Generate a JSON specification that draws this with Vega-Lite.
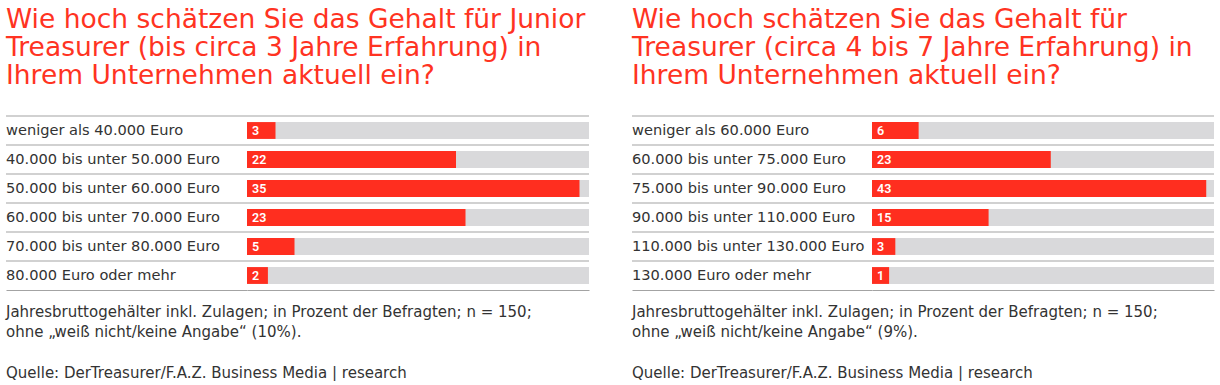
{
  "$schema": "https://vega.github.io/schema/vega-lite/v6.json",
  "padding": {"left": 5, "top": 6, "right": 0, "bottom": 0},
  "background": "white",
  "datasets": {
    "junior": [
      {"Kategorie": "weniger als 40.000 Euro", "Anteil": 3},
      {"Kategorie": "40.000 bis unter 50.000 Euro", "Anteil": 22},
      {"Kategorie": "50.000 bis unter 60.000 Euro", "Anteil": 35},
      {"Kategorie": "60.000 bis unter 70.000 Euro", "Anteil": 23},
      {"Kategorie": "70.000 bis unter 80.000 Euro", "Anteil": 5},
      {"Kategorie": "80.000 Euro oder mehr", "Anteil": 2}
    ],
    "treasurer": [
      {"Kategorie": "weniger als 60.000 Euro", "Anteil": 6},
      {"Kategorie": "60.000 bis unter 75.000 Euro", "Anteil": 23},
      {"Kategorie": "75.000 bis unter 90.000 Euro", "Anteil": 43},
      {"Kategorie": "90.000 bis unter 110.000 Euro", "Anteil": 15},
      {"Kategorie": "110.000 bis unter 130.000 Euro", "Anteil": 3},
      {"Kategorie": "130.000 Euro oder mehr", "Anteil": 1}
    ]
  },
  "config": {
    "view": {"stroke": null},
    "font": "DejaVu Sans",
    "axis": {"domainColor": "#a3a3a3", "domainWidth": 1.2},
    "title": {"font": "DejaVu Sans", "fontWeight": "normal", "anchor": "start", "frame": "group"}
  },
  "spacing": 41,
  "hconcat": [
    {
      "title": {
        "text": ["Jahresbruttogehälter inkl. Zulagen; in Prozent der Befragten; n = 150;", "ohne „weiß nicht/keine Angabe“ (10%)."],
        "subtitle": "Quelle: DerTreasurer/F.A.Z. Business Media | research",
        "orient": "bottom", "fontSize": 15, "lineHeight": 19.5, "color": "#333333", "offset": 15,
        "subtitleFont": "DejaVu Sans", "subtitleFontSize": 15, "subtitleColor": "#333333", "subtitlePadding": 26, "subtitleLineHeight": 19.5
      },
      "vconcat": [
        {
          "title": {
            "text": ["Wie hoch schätzen Sie das Gehalt für Junior", "Treasurer (bis circa 3 Jahre Erfahrung) in", "Ihrem Unternehmen aktuell ein?"],
            "fontSize": 26.5, "lineHeight": 28, "color": "#ff3322", "offset": 26
          },
          "spacing": 0,
          "bounds": "flush",
          "hconcat": [
            {
              "width": 241, "height": 174,
              "data": {"name": "junior"},
              "encoding": {
                "y": {"field": "Kategorie", "type": "nominal", "sort": null, "scale": {"paddingInner": 0, "paddingOuter": 0}, "axis": null}
              },
              "layer": [
                {
                  "mark": {"type": "rule", "color": "#a3a3a3", "strokeWidth": 1.2},
                  "encoding": {"y": {"field": "Kategorie", "type": "nominal", "sort": null, "bandPosition": 0}}
                },
                {
                  "mark": {"type": "text", "align": "left", "baseline": "middle", "fontSize": 14.6, "color": "#333333"},
                  "encoding": {
                    "x": {"datum": 0, "type": "quantitative", "scale": {"domain": [0, 1]},
                          "axis": {"title": null, "labels": false, "ticks": false, "grid": false, "domain": true}},
                    "text": {"field": "Kategorie"}
                  }
                }
              ]
            },
            {
              "width": 342, "height": 174,
              "data": {"name": "junior"},
              "transform": [{"calculate": "max(datum.Anteil, 2.2)", "as": "Balken"}],
              "encoding": {
                "y": {"field": "Kategorie", "type": "nominal", "sort": null, "scale": {"paddingInner": 0, "paddingOuter": 0}, "axis": null}
              },
              "layer": [
                {
                  "mark": {"type": "rule", "color": "#a3a3a3", "strokeWidth": 1.2},
                  "encoding": {"y": {"field": "Kategorie", "type": "nominal", "sort": null, "bandPosition": 0}}
                },
                {
                  "mark": {"type": "bar", "color": "#d9d9db", "height": {"band": 0.58}},
                  "encoding": {"x": {"datum": 36, "type": "quantitative", "scale": {"domain": [0, 36], "nice": false},
                                     "axis": {"title": null, "labels": false, "ticks": false, "grid": false, "domain": true}}}
                },
                {
                  "mark": {"type": "bar", "color": "#ff2e1f", "height": {"band": 0.58}},
                  "encoding": {"x": {"field": "Balken", "type": "quantitative"}}
                },
                {
                  "mark": {"type": "text", "align": "left", "baseline": "middle", "dx": 5, "fontSize": 12.5, "fontWeight": 600, "color": "white", "font": "Roboto"},
                  "encoding": {"x": {"datum": 0, "type": "quantitative"}, "text": {"field": "Anteil", "type": "quantitative"}}
                }
              ]
            }
          ]
        }
      ]
    },
    {
      "title": {
        "text": ["Jahresbruttogehälter inkl. Zulagen; in Prozent der Befragten; n = 150;", "ohne „weiß nicht/keine Angabe“ (9%)."],
        "subtitle": "Quelle: DerTreasurer/F.A.Z. Business Media | research",
        "orient": "bottom", "fontSize": 15, "lineHeight": 19.5, "color": "#333333", "offset": 15,
        "subtitleFont": "DejaVu Sans", "subtitleFontSize": 15, "subtitleColor": "#333333", "subtitlePadding": 26, "subtitleLineHeight": 19.5
      },
      "vconcat": [
        {
          "title": {
            "text": ["Wie hoch schätzen Sie das Gehalt für", "Treasurer (circa 4 bis 7 Jahre Erfahrung) in", "Ihrem Unternehmen aktuell ein?"],
            "fontSize": 26.5, "lineHeight": 28, "color": "#ff3322", "offset": 26
          },
          "spacing": 0,
          "bounds": "flush",
          "hconcat": [
            {
              "width": 240, "height": 174,
              "data": {"name": "treasurer"},
              "encoding": {
                "y": {"field": "Kategorie", "type": "nominal", "sort": null, "scale": {"paddingInner": 0, "paddingOuter": 0}, "axis": null}
              },
              "layer": [
                {
                  "mark": {"type": "rule", "color": "#a3a3a3", "strokeWidth": 1.2},
                  "encoding": {"y": {"field": "Kategorie", "type": "nominal", "sort": null, "bandPosition": 0}}
                },
                {
                  "mark": {"type": "text", "align": "left", "baseline": "middle", "fontSize": 14.6, "color": "#333333"},
                  "encoding": {
                    "x": {"datum": 0, "type": "quantitative", "scale": {"domain": [0, 1]},
                          "axis": {"title": null, "labels": false, "ticks": false, "grid": false, "domain": true}},
                    "text": {"field": "Kategorie"}
                  }
                }
              ]
            },
            {
              "width": 342, "height": 174,
              "data": {"name": "treasurer"},
              "transform": [{"calculate": "max(datum.Anteil, 2.2)", "as": "Balken"}],
              "encoding": {
                "y": {"field": "Kategorie", "type": "nominal", "sort": null, "scale": {"paddingInner": 0, "paddingOuter": 0}, "axis": null}
              },
              "layer": [
                {
                  "mark": {"type": "rule", "color": "#a3a3a3", "strokeWidth": 1.2},
                  "encoding": {"y": {"field": "Kategorie", "type": "nominal", "sort": null, "bandPosition": 0}}
                },
                {
                  "mark": {"type": "bar", "color": "#d9d9db", "height": {"band": 0.58}},
                  "encoding": {"x": {"datum": 44, "type": "quantitative", "scale": {"domain": [0, 44], "nice": false},
                                     "axis": {"title": null, "labels": false, "ticks": false, "grid": false, "domain": true}}}
                },
                {
                  "mark": {"type": "bar", "color": "#ff2e1f", "height": {"band": 0.58}},
                  "encoding": {"x": {"field": "Balken", "type": "quantitative"}}
                },
                {
                  "mark": {"type": "text", "align": "left", "baseline": "middle", "dx": 5, "fontSize": 12.5, "fontWeight": 600, "color": "white", "font": "Roboto"},
                  "encoding": {"x": {"datum": 0, "type": "quantitative"}, "text": {"field": "Anteil", "type": "quantitative"}}
                }
              ]
            }
          ]
        }
      ]
    }
  ]
}
